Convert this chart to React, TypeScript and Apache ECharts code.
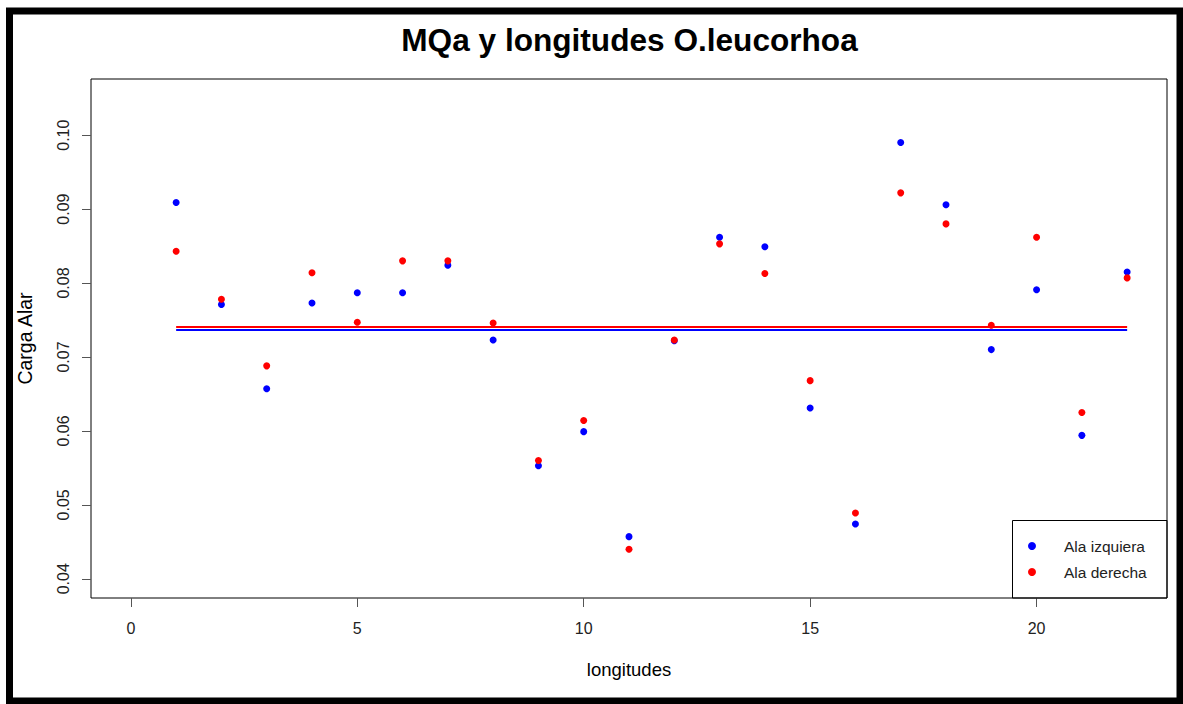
import React, { useEffect, useRef } from "react";
import * as echarts from "echarts";

const titleText = "MQa y longitudes O.leucorhoa";
const xTitle = "longitudes";
const yTitle = "Carga Alar";
const legendNames = ["Ala izquiera", "Ala derecha"];

const longitudes = [1, 2, 3, 4, 5, 6, 7, 8, 9, 10, 11, 12, 13, 14, 15, 16, 17, 18, 19, 20, 21, 22];
const alaIzquiera = [
  0.0909, 0.0771, 0.0657, 0.0773, 0.0787, 0.0787, 0.0824, 0.0723, 0.0553, 0.0599, 0.0457,
  0.0722, 0.0862, 0.0849, 0.0631, 0.0474, 0.099, 0.0906, 0.071, 0.0791, 0.0594, 0.0815,
];
const alaDerecha = [
  0.0843, 0.0778, 0.0688, 0.0814, 0.0747, 0.083, 0.083, 0.0746, 0.056, 0.0614, 0.044,
  0.0723, 0.0853, 0.0813, 0.0668, 0.0489, 0.0922, 0.088, 0.0743, 0.0862, 0.0625, 0.0807,
];
// horizontal mean lines
const meanIzquiera = 0.07365;
const meanDerecha = 0.07406;

const xTicks = [0, 5, 10, 15, 20];
const yTicks = [0.04, 0.05, 0.06, 0.07, 0.08, 0.09, 0.1];

export default function App() {
  const ref = useRef<HTMLDivElement>(null);
  useEffect(() => {
    if (!ref.current) return;
    const chart = echarts.init(ref.current, null, { renderer: "svg" });
    const font = "Liberation Sans, Arial, sans-serif";
    const xFirst = longitudes[0];
    const xLast = longitudes[longitudes.length - 1];
    chart.setOption({
      animation: false,
      backgroundColor: "#ffffff",
      textStyle: { fontFamily: font },
      title: {
        text: titleText,
        left: 629.5,
        top: 23.6,
        padding: 0,
        textAlign: "center",
        textStyle: { fontSize: 31.6, fontWeight: "bold", color: "#000", fontFamily: font },
      },
      grid: {
        left: 91,
        top: 79,
        right: 16,
        bottom: 106,
        show: true,
        borderColor: "#000",
        borderWidth: 1,
        backgroundColor: "transparent",
      },
      legend: {
        data: legendNames,
        orient: "vertical",
        left: 1028,
        top: 537,
        padding: 0,
        itemWidth: 8,
        itemHeight: 8,
        itemGap: 8,
        icon: "circle",
        selectedMode: false,
        textStyle: {
          fontSize: 15.5,
          color: "#222",
          lineHeight: 18,
          padding: [0, 0, 0, 23],
          fontFamily: font,
        },
      },
      xAxis: {
        type: "value",
        min: -0.88,
        max: 22.88,
        splitLine: { show: false },
        axisLine: { show: false, onZero: false },
        axisTick: {
          show: true,
          length: 9,
          customValues: xTicks,
          lineStyle: { color: "#555", width: 1 },
        },
        axisLabel: {
          customValues: xTicks,
          fontSize: 16,
          margin: 22,
          color: "#222",
          fontFamily: font,
        },
        name: xTitle,
        nameLocation: "middle",
        nameGap: 62,
        nameTextStyle: { fontSize: 18.5, color: "#000", fontFamily: font },
      },
      yAxis: {
        type: "value",
        min: 0.0374,
        max: 0.1076,
        splitLine: { show: false },
        axisLine: { show: false, onZero: false },
        axisTick: {
          show: true,
          length: 9,
          customValues: yTicks,
          lineStyle: { color: "#555", width: 1 },
        },
        axisLabel: {
          customValues: yTicks,
          rotate: 90,
          fontSize: 16,
          margin: 20,
          color: "#222",
          fontFamily: font,
          formatter: (v: number) => v.toFixed(2),
        },
        name: yTitle,
        nameLocation: "middle",
        nameGap: 56,
        nameRotate: 90,
        nameTextStyle: { fontSize: 19.5, color: "#000", fontFamily: font },
      },
      graphic: [
        {
          type: "rect",
          z: 100,
          silent: true,
          shape: { x: 9.5, y: 11, width: 1170.5, height: 690 },
          style: { fill: "none", stroke: "#000", lineWidth: 7 },
        },
        {
          type: "rect",
          z: 100,
          silent: true,
          shape: { x: 1012.5, y: 520.5, width: 154.5, height: 77.5 },
          style: { fill: "none", stroke: "#000", lineWidth: 1 },
        },
      ],
      series: [
        {
          name: "Media izquierda",
          type: "line",
          z: 1,
          symbol: "none",
          silent: true,
          lineStyle: { color: "#0000FF", width: 2 },
          data: [
            [xFirst, meanIzquiera],
            [xLast, meanIzquiera],
          ],
        },
        {
          name: "Media derecha",
          type: "line",
          z: 1,
          symbol: "none",
          silent: true,
          lineStyle: { color: "#FF0000", width: 2 },
          data: [
            [xFirst, meanDerecha],
            [xLast, meanDerecha],
          ],
        },
        {
          name: legendNames[0],
          type: "scatter",
          z: 3,
          symbol: "circle",
          symbolSize: 7,
          itemStyle: { color: "#0000FF", opacity: 1 },
          data: longitudes.map((x, i) => [x, alaIzquiera[i]]),
        },
        {
          name: legendNames[1],
          type: "scatter",
          z: 3,
          symbol: "circle",
          symbolSize: 7,
          itemStyle: { color: "#FF0000", opacity: 1 },
          data: longitudes.map((x, i) => [x, alaDerecha[i]]),
        },
      ],
    });
    return () => chart.dispose();
  }, []);
  return (
    <div
      ref={ref}
      style={{ position: "fixed", left: 0, top: 0, width: 1183, height: 704, background: "#fff" }}
    />
  );
}
